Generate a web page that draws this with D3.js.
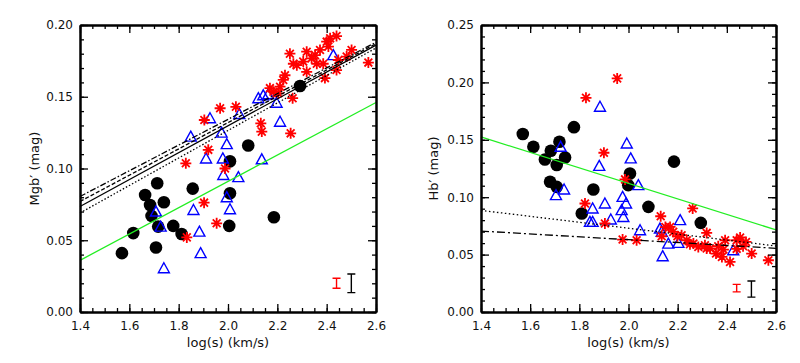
<!DOCTYPE html>
<html>
<head>
<meta charset="utf-8">
<script src="https://cdn.jsdelivr.net/npm/d3@7"></script>
<style>
  body { margin: 0; background: #fff; }
  text { font-family: "DejaVu Sans", sans-serif; }
</style>
</head>
<body>
<div id="chart"></div>
<script>

// ---- data ----
var xTicks = [1.4, 1.6, 1.8, 2.0, 2.2, 2.4, 2.6];
var leftYTicks = [0.00, 0.05, 0.10, 0.15, 0.20];
var rightYTicks = [0.00, 0.05, 0.10, 0.15, 0.20, 0.25];

// Mgb' panel
var mgbCircles = [[1.57,0.041],[1.616,0.055],[1.664,0.0815],[1.684,0.0746],[1.69,0.067],
  [1.713,0.0897],[1.74,0.0765],[1.717,0.0595],[1.708,0.045],[1.778,0.060],[1.812,0.0544],
  [1.857,0.086],[2.008,0.105],[2.008,0.0827],[2.005,0.060],[2.186,0.066],[2.082,0.116],
  [2.292,0.1575]];
var mgbTriangles = [[1.708,0.070],[1.727,0.0595],[1.74,0.0305],[1.86,0.0711],[1.884,0.056],
  [1.889,0.041],[1.911,0.107],[1.849,0.1222],[1.927,0.135],[2.046,0.138],[1.974,0.125],
  [1.995,0.117],[1.979,0.107],[2.137,0.1064],[2.211,0.1326],[2.123,0.149],[2.143,0.151],
  [2.163,0.1517],[2.197,0.1458],[2.427,0.179],[1.981,0.0955],[2.042,0.094],[1.995,0.080],
  [2.008,0.0716]];
var mgbStars = [[1.833,0.052],[1.903,0.0762],[1.954,0.0618],[1.829,0.1036],[1.904,0.1338],
  [1.92,0.113],[1.968,0.142],[2.032,0.143],[2.133,0.1315],[2.137,0.1257],[2.254,0.1245],
  [2.251,0.180],[2.231,0.165],[2.224,0.1617],[2.17,0.156],[2.184,0.1535],[2.211,0.157],
  [2.204,0.1524],[2.262,0.149],[2.279,0.172],[2.305,0.1745],[2.319,0.1814],[2.319,0.1674],
  [2.339,0.1768],[2.36,0.173],[2.373,0.1826],[2.353,0.179],[2.393,0.163],[2.386,0.173],
  [2.40,0.1884],[2.414,0.1907],[2.44,0.1923],[2.407,0.185],[2.44,0.1686],[2.447,0.1756],
  [2.501,0.1826],[2.481,0.178],[2.569,0.1738],[2.265,0.173],[1.988,0.100]];
var mgbFitGreen = [[1.4,0.036],[2.6,0.146]];
var mgbFitSolid = [[1.4,0.0735],[2.6,0.186]];
var mgbFitDashDot = [[1.4,0.0805],[2.6,0.188]];
var mgbFitDashed = [[1.4,0.077],[2.6,0.187]];
var mgbFitDotted = [[1.4,0.069],[2.6,0.184]];
var mgbErrRed = [2.44, 0.020, 0.0035];
var mgbErrBlack = [2.50, 0.020, 0.0065];

// Hb' panel
var hbCircles = [[1.57,0.155],[1.613,0.144],[1.684,0.1404],[1.719,0.1483],[1.778,0.161],
  [1.66,0.1329],[1.708,0.128],[1.742,0.1346],[1.681,0.1134],[1.708,0.109],[1.81,0.0858],
  [1.857,0.1067],[2.006,0.1207],[1.999,0.1105],[2.081,0.0916],[2.294,0.0776],[2.185,0.131]];
var hbTriangles = [[1.724,0.1439],[1.884,0.1788],[1.993,0.1468],[2.009,0.1338],[1.881,0.1273],
  [1.705,0.1018],[1.738,0.1067],[1.843,0.0785],[1.854,0.0902],[1.904,0.0945],[1.854,0.0785],
  [1.928,0.0806],[1.976,0.1003],[1.99,0.0945],[1.972,0.0887],[1.979,0.0828],[2.04,0.1105],
  [2.047,0.0712],[2.128,0.0727],[2.135,0.0698],[2.21,0.080],[2.162,0.0596],[2.203,0.0602],
  [2.139,0.0486],[2.426,0.0538]];
var hbStars = [[1.827,0.1866],[1.954,0.2035],[1.90,0.1387],[1.823,0.0945],[1.986,0.1155],
  [1.904,0.0771],[1.976,0.0631],[2.033,0.0625],[2.131,0.0834],[2.261,0.0902],[2.318,0.0689],
  [2.169,0.0741],[2.182,0.0698],[2.216,0.0669],[2.237,0.0625],[2.264,0.0596],[2.284,0.0567],
  [2.311,0.0582],[2.332,0.0553],[2.356,0.0509],[2.365,0.0573],[2.386,0.0544],[2.393,0.0625],
  [2.413,0.0436],[2.44,0.0625],[2.454,0.0649],[2.478,0.061],[2.501,0.0509],[2.569,0.0451],
  [2.135,0.066],[2.199,0.066],[2.15,0.074],[2.318,0.0553],[2.44,0.055],[2.38,0.048],
  [2.466,0.0573],[2.25,0.059]];
var hbFitGreen = [[1.4,0.1525],[2.6,0.0715]];
var hbFitDotted = [[1.4,0.0885],[2.6,0.0575]];
var hbFitDashDot = [[1.4,0.0705],[2.6,0.0555]];
var hbErrRed = [2.44, 0.0208, 0.0033];
var hbErrBlack = [2.50, 0.020, 0.007];

var svg = d3.select("#chart").append("svg")
    .attr("width", 800)
    .attr("height", 363);

function drawPanel(p) {
    var x = d3.scaleLinear().domain([1.4, 2.6]).range([p.left, p.right]);
    var y = d3.scaleLinear().domain(p.yDomain).range([p.bottom, p.top]);
    var g = svg.append("g");

    var line = d3.line().x(d => x(d[0])).y(d => y(d[1]));

    // circles
    g.selectAll(null).data(p.circles).enter().append("circle")
        .attr("cx", d => x(d[0])).attr("cy", d => y(d[1]))
        .attr("r", 6.3).attr("fill", "black");

    // triangles
    g.selectAll(null).data(p.triangles).enter().append("path")
        .attr("d", "M0,-5.5 L5.5,4.5 L-5.5,4.5 Z")
        .attr("transform", d => "translate(" + x(d[0]) + "," + y(d[1]) + ")")
        .attr("fill", "none").attr("stroke", "#0000ff").attr("stroke-width", 1.4);

    // asterisks
    var r = 5.5, q = 3.9;
    var star = "M" + (-r) + ",0L" + r + ",0M0," + (-r) + "L0," + r +
        "M" + (-q) + "," + (-q) + "L" + q + "," + q + "M" + (-q) + "," + q + "L" + q + "," + (-q);
    g.selectAll(null).data(p.stars).enter().append("path")
        .attr("d", star)
        .attr("transform", d => "translate(" + x(d[0]) + "," + y(d[1]) + ")")
        .attr("fill", "none").attr("stroke", "#ff0000").attr("stroke-width", 1.8);

    // fit lines
    p.lines.forEach(function(l) {
        g.append("path").datum(l.pts).attr("d", line)
            .attr("fill", "none").attr("stroke", l.color)
            .attr("stroke-width", l.width || 1.3)
            .attr("stroke-dasharray", l.dash || null);
    });

    // error bars
    [[p.errRed, "#ff0000"], [p.errBlack, "black"]].forEach(function(e) {
        var d = e[0], cx = x(d[0]), y1 = y(d[1] - d[2]), y2 = y(d[1] + d[2]);
        g.append("path")
            .attr("d", "M" + (cx - 4) + "," + y1 + "H" + (cx + 4) +
                "M" + cx + "," + y1 + "V" + y2 + "M" + (cx - 4) + "," + y2 + "H" + (cx + 4))
            .attr("fill", "none").attr("stroke", e[1]).attr("stroke-width", 1.4);
    });

    // axes: major + minor ticks on all four sides, ticks pointing inward
    var xMinor = d3.range(1.4, 2.6001, 0.05);
    var yMinor = d3.range(p.yDomain[0], p.yDomain[1] + 0.0001, 0.01);

    function styleAxis(a) {
        a.select(".domain").attr("stroke-width", 2);
        a.selectAll(".tick line").attr("stroke-width", 1.3);
        a.selectAll("text").attr("font-size", 12).attr("fill", "#111")
            .attr("font-family", "DejaVu Sans, sans-serif");
    }

    var bottom = g.append("g").attr("transform", "translate(0," + p.bottom + ")");
    bottom.append("g").call(d3.axisBottom(x).tickValues(xMinor).tickSize(-4).tickSizeOuter(0).tickFormat(""));
    bottom.append("g").call(d3.axisBottom(x).tickValues(xTicks).tickSize(-8).tickSizeOuter(0)
        .tickPadding(9).tickFormat(d3.format(".1f")));
    bottom.selectAll("g").each(function() { styleAxis(d3.select(this)); });

    var top = g.append("g").attr("transform", "translate(0," + p.top + ")");
    top.append("g").call(d3.axisTop(x).tickValues(xMinor).tickSize(-4).tickSizeOuter(0).tickFormat(""));
    top.append("g").call(d3.axisTop(x).tickValues(xTicks).tickSize(-8).tickSizeOuter(0).tickFormat(""));
    top.selectAll("g").each(function() { styleAxis(d3.select(this)); });

    var left = g.append("g").attr("transform", "translate(" + p.left + ",0)");
    left.append("g").call(d3.axisLeft(y).tickValues(yMinor).tickSize(-4).tickSizeOuter(0).tickFormat(""));
    left.append("g").call(d3.axisLeft(y).tickValues(p.yTicks).tickSize(-8).tickSizeOuter(0)
        .tickPadding(7).tickFormat(d3.format(".2f")));
    left.selectAll("g").each(function() { styleAxis(d3.select(this)); });

    var right = g.append("g").attr("transform", "translate(" + p.right + ",0)");
    right.append("g").call(d3.axisRight(y).tickValues(yMinor).tickSize(-4).tickSizeOuter(0).tickFormat(""));
    right.append("g").call(d3.axisRight(y).tickValues(p.yTicks).tickSize(-8).tickSizeOuter(0).tickFormat(""));
    right.selectAll("g").each(function() { styleAxis(d3.select(this)); });

    // axis titles
    g.append("text")
        .attr("x", (p.left + p.right) / 2).attr("y", 347)
        .attr("text-anchor", "middle").attr("font-size", 13).attr("fill", "#111")
        .text("log(s) (km/s)");
    g.append("text")
        .attr("transform", "translate(" + p.titleX + "," + ((p.top + p.bottom) / 2) + ") rotate(-90)")
        .attr("text-anchor", "middle").attr("font-size", 13).attr("fill", "#111")
        .text(p.yTitle);
}

drawPanel({
    left: 80, right: 376, top: 25, bottom: 312,
    yDomain: [0, 0.20], yTicks: leftYTicks, yTitle: "Mgb\u2032 (mag)", titleX: 39,
    circles: mgbCircles, triangles: mgbTriangles, stars: mgbStars,
    lines: [
        {pts: mgbFitGreen, color: "#22ee22"},
        {pts: mgbFitDashDot, color: "black", dash: "6,2,1.5,2"},
        {pts: mgbFitDashed, color: "black", dash: "4,2"},
        {pts: mgbFitSolid, color: "black"},
        {pts: mgbFitDotted, color: "black", dash: "1.5,2"}
    ],
    errRed: mgbErrRed, errBlack: mgbErrBlack
});

drawPanel({
    left: 481, right: 776, top: 25, bottom: 312,
    yDomain: [0, 0.25], yTicks: rightYTicks, yTitle: "Hb\u2032 (mag)", titleX: 438,
    circles: hbCircles, triangles: hbTriangles, stars: hbStars,
    lines: [
        {pts: hbFitGreen, color: "#22ee22"},
        {pts: hbFitDotted, color: "black", dash: "1.5,2.5"},
        {pts: hbFitDashDot, color: "black", dash: "8,3,2,3"}
    ],
    errRed: hbErrRed, errBlack: hbErrBlack
});

</script>
</body>
</html>
